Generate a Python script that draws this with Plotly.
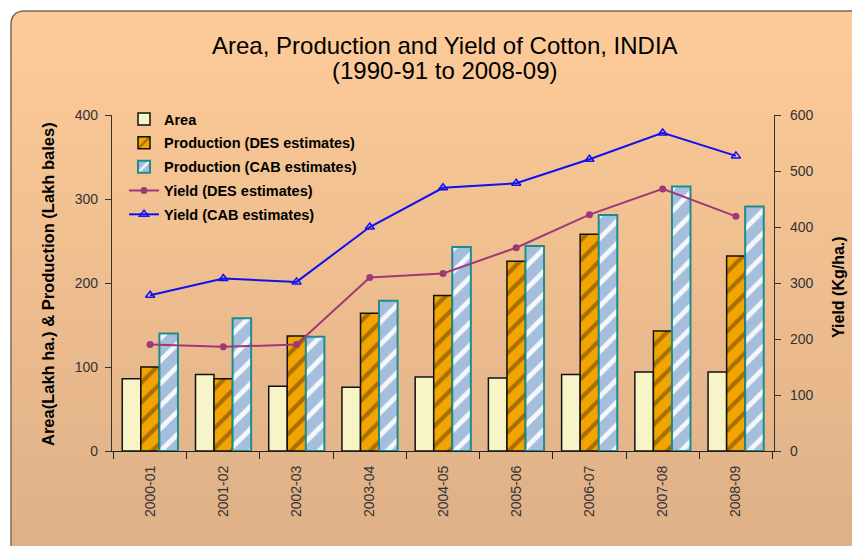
import plotly.graph_objects as go

years = ["2000-01", "2001-02", "2002-03", "2003-04", "2004-05",
         "2005-06", "2006-07", "2007-08", "2008-09"]
area = [86, 91, 77, 76, 88, 87, 91, 94, 94]
prod_des = [100, 86, 137, 164, 185, 226, 258, 143, 232]
prod_cab = [140, 158, 136, 179, 243, 244, 281, 315, 291]
yield_des = [190, 186, 190, 310, 317, 363, 422, 468, 419]
yield_cab = [278, 308, 302, 400, 470, 478, 521, 568, 527]

W, H = 852, 546
L, R, T, B = 112, 774, 115, 451
FONT = "Liberation Sans, Arial, sans-serif"


def px_x(p):
    return (p - L) / (R - L)


def px_y(p):
    return (B - p) / (B - T)


fig = go.Figure()

fig.add_trace(go.Bar(
    x=years, y=area, name="Area", legendgroup="a",
    marker=dict(color="#F7F4C8", line=dict(color="#111111", width=1.5)),
))
fig.add_trace(go.Bar(
    x=years, y=prod_des, name="Production (DES estimates)", legendgroup="b",
    marker=dict(color="#EFA000", line=dict(color="#111111", width=1.5),
                pattern=dict(shape="/", bgcolor="#F2A400", fgcolor="#A86E00",
                             size=14, solidity=0.3, fillmode="replace")),
))
fig.add_trace(go.Bar(
    x=years, y=prod_cab, name="Production (CAB estimates)", legendgroup="c",
    marker=dict(color="#A4BEDC", line=dict(color="#1E8C8C", width=2),
                pattern=dict(shape="/", bgcolor="#A4BEDC", fgcolor="#F4F8FC",
                             size=16, solidity=0.3, fillmode="replace")),
))
fig.add_trace(go.Scatter(
    x=years, y=yield_des, name="Yield (DES estimates)", legendgroup="d",
    yaxis="y2", mode="lines+markers",
    line=dict(color="#A03878", width=2),
    marker=dict(symbol="circle", size=7, color="#A03878"),
))
fig.add_trace(go.Scatter(
    x=years, y=yield_cab, name="Yield (CAB estimates)", legendgroup="e",
    yaxis="y2", mode="lines+markers",
    line=dict(color="#1010F0", width=2),
    marker=dict(symbol="triangle-up-open", size=8, color="#1010F0",
                line=dict(width=1.5, color="#1010F0")),
))

# background panel with vertical gradient
shapes = []
x0p, x1p = px_x(12), px_x(W + 5)
shapes.append(dict(type="path", xref="paper", yref="paper", layer="below",
                   path=(f"M {px_x(11)},{px_y(W)} L {px_x(11)},{px_y(25)} "
                         f"Q {px_x(11)},{px_y(11)} {px_x(25)},{px_y(11)} "
                         f"L {px_x(W + 5)},{px_y(11)} L {px_x(W + 5)},{px_y(W)} Z"),
                   fillcolor="#FDCB98", line=dict(width=0)))
top_c = (0xFD, 0xCB, 0x98)
bot_c = (0xDE, 0xB0, 0x87)
n = 60
y_start, y_end = 24, H + 2
for i in range(n):
    ya = y_start + (y_end - y_start) * i / n
    yb = y_start + (y_end - y_start) * (i + 1) / n + 0.6
    t = (i + 0.5) / n
    c = tuple(round(top_c[k] + (bot_c[k] - top_c[k]) * t) for k in range(3))
    shapes.append(dict(type="rect", xref="paper", yref="paper", layer="below",
                       x0=x0p, x1=x1p, y0=px_y(ya), y1=px_y(yb),
                       fillcolor="rgb(%d,%d,%d)" % c, line=dict(width=0)))
shapes.append(dict(type="path", xref="paper", yref="paper", layer="below",
                   path=(f"M {px_x(11)},{px_y(W)} L {px_x(11)},{px_y(25)} "
                         f"Q {px_x(11)},{px_y(11)} {px_x(25)},{px_y(11)} "
                         f"L {px_x(W + 5)},{px_y(11)}"),
                   line=dict(color="#7A6A5A", width=1.5)))

annotations = [
    dict(text="Area, Production and Yield of Cotton, INDIA",
         xref="paper", yref="paper", x=px_x(445), y=px_y(45),
         xanchor="center", yanchor="middle", showarrow=False,
         font=dict(family=FONT, size=24, color="#000000")),
    dict(text="(1990-91 to 2008-09)",
         xref="paper", yref="paper", x=px_x(445), y=px_y(70),
         xanchor="center", yanchor="middle", showarrow=False,
         font=dict(family=FONT, size=24, color="#000000")),
    dict(text="<b>Area(Lakh ha.) & Production (Lakh bales)</b>",
         xref="paper", yref="paper", x=px_x(48), y=px_y(284),
         xanchor="center", yanchor="middle", showarrow=False, textangle=-90,
         font=dict(family=FONT, size=16.5, color="#000000")),
    dict(text="<b>Yield (Kg/ha.)</b>",
         xref="paper", yref="paper", x=px_x(838), y=px_y(287),
         xanchor="center", yanchor="middle", showarrow=False, textangle=-90,
         font=dict(family=FONT, size=16, color="#000000")),
]

fig.update_layout(
    width=W, height=H,
    margin=dict(l=L, r=W - R, t=T, b=H - B),
    paper_bgcolor="#FFFFFF",
    plot_bgcolor="rgba(0,0,0,0)",
    barmode="group", bargap=0.24, bargroupgap=0,
    shapes=shapes, annotations=annotations,
    font=dict(family=FONT, size=14, color="#333333"),
    showlegend=True,
    legend=dict(x=px_x(124), y=px_y(103), xanchor="left", yanchor="top",
                bgcolor="rgba(0,0,0,0)", tracegroupgap=2,
                traceorder="grouped",
                font=dict(family=FONT, size=14.5, color="#000000", weight="bold")),
    xaxis=dict(type="category", showline=True, linecolor="#222222", linewidth=1.2,
               ticks="outside", tickson="boundaries", ticklen=7,
               tickcolor="#222222", tickangle=-90, ticklabelstandoff=8,
               tickfont=dict(family=FONT, size=14, color="#333333"),
               showgrid=False, zeroline=False),
    yaxis=dict(range=[0, 400], dtick=100, showline=True, linecolor="#333333",
               linewidth=1.2, ticks="outside", ticklen=6, tickcolor="#333333",
               ticklabelstandoff=4,
               tickfont=dict(family=FONT, size=14, color="#333333"),
               showgrid=False, zeroline=False),
    yaxis2=dict(range=[0, 600], dtick=100, overlaying="y", side="right",
                showline=True, linecolor="#333333", linewidth=1.2,
                ticks="outside", ticklen=6, tickcolor="#333333",
                ticklabelstandoff=6,
                tickfont=dict(family=FONT, size=14, color="#333333"),
                showgrid=False, zeroline=False),
)

fig.write_html("out.html")
